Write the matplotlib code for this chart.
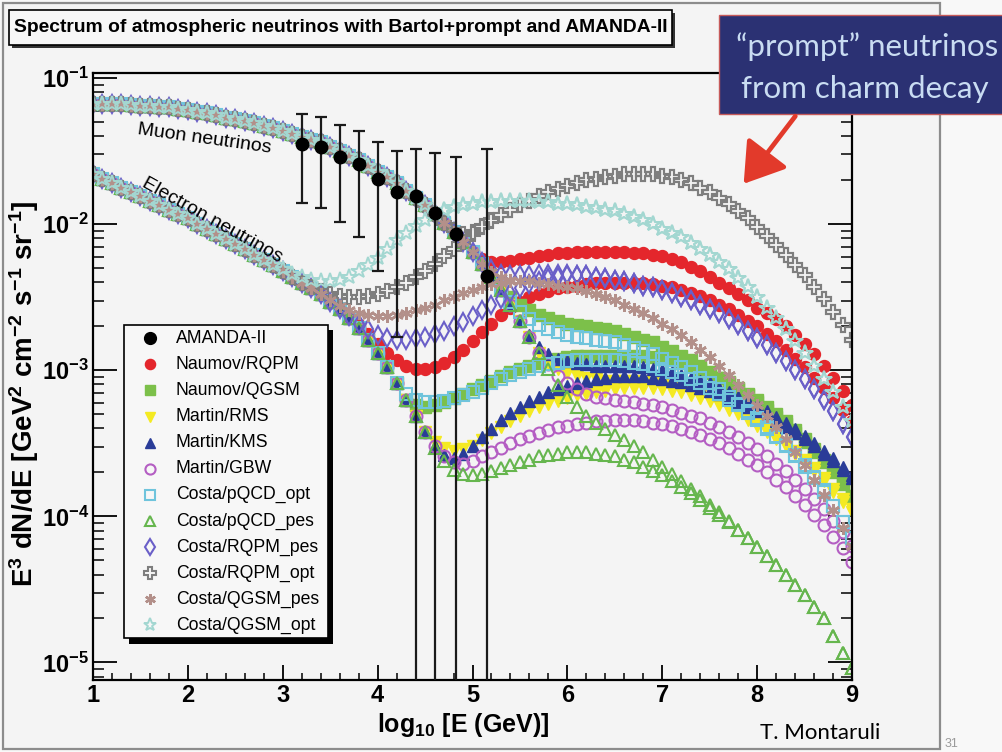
import numpy as np
import matplotlib
matplotlib.use("Agg")
import matplotlib.pyplot as plt
from matplotlib.lines import Line2D
from matplotlib.patches import Rectangle, FancyArrowPatch
from matplotlib.ticker import MultipleLocator, FixedLocator, NullFormatter

plt.rcParams['font.family'] = ['Liberation Sans', 'DejaVu Sans']
plt.rcParams['mathtext.fontset'] = 'custom'
plt.rcParams['mathtext.rm'] = 'Liberation Sans:bold'
plt.rcParams['mathtext.it'] = 'Liberation Sans:bold'
plt.rcParams['mathtext.bf'] = 'Liberation Sans:bold'

# ---------------- data ----------------
LOG10E = [round(1.0 + 0.1 * i, 1) for i in range(81)]   # sample positions, log10(E/GeV)

# conventional (Bartol) part shared by all models
MU_CONV = [
    6.61e-2, 6.61e-2, 6.61e-2, 6.61e-2, 6.53e-2, 6.46e-2, 6.46e-2, 6.38e-2, 6.31e-2, 6.17e-2,
    6.03e-2, 5.89e-2, 5.75e-2, 5.56e-2, 5.37e-2, 5.25e-2, 5.07e-2, 4.90e-2, 4.73e-2, 4.57e-2,
    4.37e-2, 4.17e-2, 3.98e-2, 3.80e-2, 3.63e-2, 3.39e-2, 3.16e-2, 2.95e-2, 2.75e-2, 2.51e-2,
    2.29e-2, 2.09e-2, 1.91e-2, 1.70e-2, 1.51e-2, 1.35e-2, 1.17e-2, 1.02e-2, 8.91e-3, 7.59e-3,
    6.46e-3, 5.37e-3, 4.37e-3, 3.55e-3, 2.82e-3, 2.19e-3, 1.70e-3, 1.32e-3, 1.02e-3, 7.94e-4,
    6.61e-4]
E_CONV = [
    2.19e-2, 2.04e-2, 1.91e-2, 1.78e-2, 1.66e-2, 1.55e-2, 1.45e-2, 1.35e-2, 1.26e-2, 1.17e-2,
    1.10e-2, 1.01e-2, 9.33e-3, 8.61e-3, 7.94e-3, 7.33e-3, 6.76e-3, 6.17e-3, 5.69e-3, 5.25e-3,
    4.79e-3, 4.37e-3, 3.98e-3, 3.63e-3, 3.31e-3, 2.95e-3, 2.63e-3, 2.29e-3, 1.95e-3, 1.62e-3,
    1.32e-3, 1.05e-3, 8.13e-4, 6.31e-4, 4.90e-4, 3.80e-4, 2.95e-4, 2.29e-4, 1.78e-4, 1.38e-4,
    1.07e-4]

# high-energy ends of each model (they end at log10E = 9.0)
NAUMOV_RQPM_MU = [
    6.46e-3, 5.75e-3, 5.50e-3, 5.50e-3, 5.62e-3, 5.75e-3, 5.89e-3, 6.03e-3, 6.17e-3, 6.31e-3,
    6.31e-3, 6.46e-3, 6.46e-3, 6.46e-3, 6.46e-3, 6.46e-3, 6.46e-3, 6.31e-3, 6.31e-3, 6.17e-3,
    6.03e-3, 5.75e-3, 5.50e-3, 5.13e-3, 4.79e-3, 4.37e-3, 3.98e-3, 3.63e-3, 3.31e-3, 3.02e-3,
    2.69e-3, 2.45e-3, 2.24e-3, 2.00e-3, 1.74e-3, 1.51e-3, 1.29e-3, 1.07e-3, 8.91e-4, 7.24e-4,
    5.75e-4]
NAUMOV_RQPM_E = [
    2.04e-3, 1.78e-3, 1.51e-3, 1.32e-3, 1.17e-3, 1.07e-3, 1.02e-3, 1.02e-3, 1.05e-3, 1.12e-3,
    1.23e-3, 1.38e-3, 1.58e-3, 1.82e-3, 2.09e-3, 2.40e-3, 2.69e-3, 2.95e-3, 3.16e-3, 3.31e-3,
    3.47e-3, 3.63e-3, 3.72e-3, 3.80e-3, 3.89e-3, 3.98e-3, 3.98e-3, 3.98e-3, 3.98e-3, 3.98e-3,
    3.98e-3, 3.89e-3, 3.80e-3, 3.72e-3, 3.55e-3, 3.39e-3, 3.24e-3, 3.02e-3, 2.82e-3, 2.63e-3,
    2.40e-3, 2.19e-3, 2.00e-3, 1.78e-3, 1.58e-3, 1.38e-3, 1.20e-3, 1.05e-3, 8.91e-4, 7.59e-4,
    6.46e-4, 5.37e-4, 4.47e-4]
NAUMOV_QGSM_MU = [
    5.37e-3, 4.47e-3, 3.72e-3, 3.16e-3, 2.82e-3, 2.57e-3, 2.40e-3, 2.29e-3, 2.19e-3,
    2.09e-3, 2.04e-3, 2.00e-3, 1.95e-3, 1.91e-3, 1.86e-3, 1.78e-3, 1.70e-3, 1.62e-3, 1.55e-3,
    1.45e-3, 1.35e-3, 1.26e-3, 1.17e-3, 1.07e-3, 9.77e-4, 8.91e-4, 8.13e-4, 7.41e-4, 6.76e-4,
    6.03e-4, 5.37e-4, 4.79e-4, 4.27e-4, 3.72e-4, 3.24e-4, 2.75e-4, 2.34e-4, 2.00e-4, 1.66e-4,
    1.38e-4]
NAUMOV_QGSM_E = [
    6.31e-4, 5.75e-4, 5.62e-4, 5.75e-4, 6.03e-4, 6.46e-4, 6.92e-4,
    7.41e-4, 7.94e-4, 8.51e-4, 9.12e-4, 9.77e-4, 1.02e-3, 1.07e-3, 1.12e-3, 1.17e-3, 1.20e-3,
    1.23e-3, 1.26e-3, 1.26e-3, 1.26e-3, 1.26e-3, 1.26e-3, 1.26e-3, 1.26e-3, 1.26e-3, 1.23e-3,
    1.20e-3, 1.17e-3, 1.12e-3, 1.07e-3, 1.02e-3, 9.55e-4, 8.91e-4, 8.32e-4, 7.59e-4, 6.92e-4,
    6.31e-4, 5.62e-4, 5.01e-4, 4.47e-4, 3.89e-4, 3.39e-4, 2.88e-4, 2.45e-4, 2.04e-4, 1.70e-4,
    1.38e-4]
MARTIN_RMS_MU = [
    1.12e-3, 1.02e-3,
    9.55e-4, 9.12e-4, 8.91e-4, 8.71e-4, 8.51e-4, 8.51e-4, 8.51e-4, 8.51e-4, 8.32e-4, 8.13e-4,
    7.94e-4, 7.76e-4, 7.41e-4, 7.08e-4, 6.76e-4, 6.46e-4, 6.03e-4, 5.62e-4, 5.25e-4, 4.79e-4,
    4.37e-4, 3.98e-4, 3.55e-4, 3.16e-4, 2.82e-4, 2.45e-4, 2.14e-4, 1.82e-4, 1.55e-4, 1.32e-4,
    1.12e-4]
MARTIN_RMS_E = [
    3.80e-4, 3.24e-4, 2.95e-4, 2.82e-4, 2.88e-4,
    3.02e-4, 3.31e-4, 3.72e-4, 4.07e-4, 4.47e-4, 4.90e-4, 5.25e-4, 5.62e-4, 5.89e-4, 6.17e-4,
    6.46e-4, 6.76e-4, 6.92e-4, 7.08e-4, 7.24e-4, 7.41e-4, 7.59e-4, 7.59e-4, 7.59e-4, 7.59e-4,
    7.41e-4, 7.24e-4, 7.08e-4, 6.76e-4, 6.46e-4, 6.17e-4, 5.75e-4, 5.37e-4, 5.01e-4, 4.57e-4,
    4.17e-4, 3.80e-4, 3.39e-4, 3.02e-4, 2.69e-4, 2.34e-4, 2.04e-4, 1.74e-4, 1.48e-4, 1.26e-4,
    1.07e-4]
MARTIN_KMS_MU = [
    1.74e-3, 1.45e-3, 1.29e-3, 1.20e-3,
    1.15e-3, 1.12e-3, 1.10e-3, 1.07e-3, 1.07e-3, 1.07e-3, 1.07e-3, 1.07e-3, 1.05e-3, 1.02e-3,
    1.00e-3, 9.77e-4, 9.33e-4, 8.91e-4, 8.51e-4, 8.13e-4, 7.59e-4, 7.08e-4, 6.61e-4, 6.17e-4,
    5.75e-4, 5.25e-4, 4.79e-4, 4.37e-4, 3.98e-4, 3.55e-4, 3.16e-4, 2.82e-4, 2.51e-4, 2.19e-4,
    1.91e-4]
MARTIN_KMS_E = [
    3.02e-4, 2.63e-4, 2.51e-4, 2.69e-4,
    3.02e-4, 3.47e-4, 3.98e-4, 4.57e-4, 5.13e-4, 5.62e-4, 6.17e-4, 6.61e-4, 7.08e-4, 7.41e-4,
    7.76e-4, 8.13e-4, 8.51e-4, 8.71e-4, 8.91e-4, 9.12e-4, 9.12e-4, 9.12e-4, 9.12e-4, 8.91e-4,
    8.71e-4, 8.51e-4, 8.32e-4, 7.94e-4, 7.59e-4, 7.24e-4, 6.92e-4, 6.46e-4, 6.03e-4, 5.62e-4,
    5.25e-4, 4.90e-4, 4.47e-4, 4.07e-4, 3.72e-4, 3.39e-4, 3.02e-4, 2.69e-4, 2.40e-4, 2.09e-4,
    1.82e-4]
MARTIN_GBW_MU = [
    1.10e-3, 9.12e-4,
    8.13e-4, 7.41e-4, 6.92e-4, 6.61e-4, 6.46e-4, 6.31e-4, 6.17e-4, 6.03e-4, 5.89e-4, 5.75e-4,
    5.62e-4, 5.37e-4, 5.13e-4, 4.90e-4, 4.68e-4, 4.37e-4, 4.07e-4, 3.80e-4, 3.47e-4, 3.16e-4,
    2.88e-4, 2.57e-4, 2.29e-4, 2.04e-4, 1.78e-4, 1.55e-4, 1.32e-4, 1.12e-4, 9.33e-5, 7.76e-5,
    6.31e-5]
MARTIN_GBW_E = [
    3.02e-4, 2.57e-4, 2.34e-4, 2.29e-4,
    2.40e-4, 2.57e-4, 2.75e-4, 2.95e-4, 3.16e-4, 3.39e-4, 3.55e-4, 3.72e-4, 3.89e-4, 4.07e-4,
    4.17e-4, 4.27e-4, 4.37e-4, 4.47e-4, 4.47e-4, 4.57e-4, 4.57e-4, 4.57e-4, 4.47e-4, 4.37e-4,
    4.27e-4, 4.17e-4, 3.98e-4, 3.80e-4, 3.63e-4, 3.39e-4, 3.16e-4, 2.95e-4, 2.69e-4, 2.45e-4,
    2.24e-4, 2.00e-4, 1.78e-4, 1.58e-4, 1.38e-4, 1.20e-4, 1.02e-4, 8.71e-5, 7.24e-5, 6.03e-5,
    4.90e-5]
COSTA_PQCD_OPT_MU = [
    3.55e-3, 2.95e-3, 2.51e-3, 2.24e-3, 2.04e-3, 1.91e-3, 1.82e-3,
    1.74e-3, 1.70e-3, 1.66e-3, 1.62e-3, 1.58e-3, 1.55e-3, 1.48e-3, 1.41e-3, 1.35e-3, 1.29e-3,
    1.20e-3, 1.12e-3, 1.05e-3, 9.77e-4, 8.91e-4, 8.13e-4, 7.41e-4, 6.61e-4, 5.89e-4, 5.25e-4,
    4.68e-4, 4.07e-4, 3.55e-4, 3.09e-4, 2.63e-4, 2.24e-4, 1.86e-4, 1.51e-4, 1.17e-4, 9.12e-5,
    7.08e-5]
COSTA_PQCD_OPT_E = [
    6.92e-4, 6.31e-4, 6.03e-4, 6.03e-4, 6.17e-4, 6.46e-4, 6.76e-4,
    7.08e-4, 7.59e-4, 8.13e-4, 8.71e-4, 9.33e-4, 9.77e-4, 1.02e-3, 1.07e-3, 1.10e-3, 1.12e-3,
    1.15e-3, 1.17e-3, 1.17e-3, 1.17e-3, 1.17e-3, 1.17e-3, 1.15e-3, 1.12e-3, 1.10e-3, 1.07e-3,
    1.02e-3, 9.77e-4, 9.33e-4, 8.71e-4, 8.13e-4, 7.59e-4, 6.92e-4, 6.31e-4, 5.75e-4, 5.13e-4,
    4.57e-4, 3.98e-4, 3.47e-4, 3.02e-4, 2.57e-4, 2.19e-4, 1.82e-4, 1.48e-4, 1.17e-4, 9.12e-5,
    7.08e-5]
COSTA_PQCD_PES_MU = [
    5.62e-4, 4.90e-4, 4.37e-4, 3.98e-4, 3.63e-4, 3.31e-4, 3.02e-4, 2.75e-4, 2.45e-4,
    2.19e-4, 1.95e-4, 1.74e-4, 1.55e-4, 1.38e-4, 1.20e-4, 1.07e-4, 9.33e-5, 8.13e-5, 7.08e-5,
    6.17e-5, 5.37e-5, 4.68e-5, 3.98e-5, 3.39e-5, 2.88e-5, 2.40e-5, 2.00e-5, 1.51e-5, 1.17e-5,
    9.12e-6]
COSTA_PQCD_PES_E = [
    2.95e-4, 2.40e-4, 2.09e-4, 1.95e-4,
    1.91e-4, 1.95e-4, 2.04e-4, 2.14e-4, 2.24e-4, 2.34e-4, 2.45e-4, 2.57e-4, 2.63e-4, 2.69e-4,
    2.75e-4, 2.75e-4, 2.75e-4, 2.69e-4, 2.63e-4, 2.57e-4, 2.45e-4, 2.34e-4, 2.19e-4, 2.04e-4,
    1.91e-4, 1.74e-4, 1.58e-4, 1.45e-4, 1.29e-4, 1.15e-4, 1.02e-4, 9.12e-5, 8.13e-5, 7.08e-5,
    6.17e-5, 5.37e-5, 4.68e-5, 3.98e-5, 3.39e-5, 2.88e-5, 2.40e-5, 2.00e-5, 1.51e-5, 1.17e-5,
    9.12e-6]
COSTA_RQPM_PES_MU = [
    5.50e-3, 4.90e-3, 4.57e-3, 4.47e-3, 4.47e-3, 4.47e-3, 4.57e-3, 4.57e-3, 4.57e-3, 4.57e-3,
    4.47e-3, 4.47e-3, 4.37e-3, 4.27e-3, 4.17e-3, 4.07e-3, 3.98e-3, 3.80e-3, 3.72e-3,
    3.55e-3, 3.39e-3, 3.16e-3, 3.02e-3, 2.82e-3, 2.63e-3, 2.45e-3, 2.24e-3, 2.04e-3, 1.86e-3,
    1.66e-3, 1.48e-3, 1.32e-3, 1.15e-3, 1.00e-3, 8.71e-4, 7.41e-4, 6.31e-4, 5.25e-4, 4.27e-4,
    3.47e-4]
COSTA_RQPM_PES_E = [
    2.63e-3, 2.34e-3, 2.09e-3, 1.91e-3,
    1.74e-3, 1.66e-3, 1.62e-3, 1.62e-3, 1.66e-3, 1.70e-3, 1.78e-3, 1.86e-3, 2.00e-3, 2.14e-3,
    2.34e-3, 2.57e-3, 2.82e-3, 3.09e-3, 3.39e-3, 3.63e-3, 3.89e-3, 4.07e-3, 4.27e-3, 4.37e-3,
    4.47e-3, 4.47e-3, 4.47e-3, 4.37e-3, 4.27e-3, 4.17e-3, 4.07e-3, 3.98e-3, 3.80e-3, 3.72e-3,
    3.55e-3, 3.39e-3, 3.16e-3, 3.02e-3, 2.82e-3, 2.63e-3, 2.45e-3, 2.24e-3, 2.04e-3, 1.86e-3,
    1.66e-3, 1.48e-3, 1.32e-3, 1.15e-3, 1.00e-3, 8.71e-4, 7.41e-4, 6.31e-4, 5.25e-4, 4.27e-4,
    3.47e-4]
COSTA_RQPM_OPT_MU = [
    9.12e-3, 8.51e-3, 8.91e-3, 9.77e-3, 1.07e-2,
    1.15e-2, 1.26e-2, 1.35e-2, 1.45e-2, 1.55e-2, 1.66e-2, 1.74e-2,
    1.82e-2, 1.91e-2, 2.00e-2, 2.04e-2, 2.09e-2, 2.14e-2, 2.19e-2, 2.19e-2, 2.19e-2, 2.19e-2,
    2.14e-2, 2.09e-2, 2.00e-2, 1.91e-2, 1.78e-2, 1.66e-2, 1.51e-2, 1.38e-2, 1.23e-2, 1.10e-2,
    9.55e-3, 8.32e-3, 7.24e-3, 6.17e-3, 5.25e-3, 4.47e-3, 3.72e-3, 3.09e-3, 2.51e-3, 2.04e-3,
    1.62e-3]
COSTA_RQPM_OPT_E = [
    3.72e-3, 3.47e-3, 3.31e-3, 3.24e-3, 3.16e-3, 3.16e-3, 3.24e-3,
    3.31e-3, 3.47e-3, 3.72e-3, 3.98e-3, 4.37e-3, 4.79e-3, 5.37e-3, 6.03e-3, 6.76e-3, 7.59e-3,
    8.51e-3, 9.55e-3, 1.05e-2, 1.15e-2, 1.26e-2, 1.35e-2, 1.45e-2, 1.55e-2, 1.66e-2, 1.74e-2,
    1.82e-2, 1.91e-2, 2.00e-2, 2.04e-2, 2.09e-2, 2.14e-2, 2.19e-2, 2.19e-2, 2.19e-2, 2.19e-2,
    2.14e-2, 2.09e-2, 2.00e-2, 1.91e-2, 1.78e-2, 1.66e-2, 1.51e-2, 1.38e-2, 1.23e-2, 1.10e-2,
    9.55e-3, 8.32e-3, 7.24e-3, 6.17e-3, 5.25e-3, 4.47e-3, 3.72e-3, 3.09e-3, 2.51e-3, 2.04e-3,
    1.62e-3]
COSTA_QGSM_PES_MU = [
    5.37e-3, 4.68e-3, 4.37e-3, 4.17e-3, 4.07e-3, 4.07e-3, 3.98e-3, 3.89e-3, 3.80e-3,
    3.72e-3, 3.63e-3, 3.47e-3, 3.31e-3, 3.16e-3, 3.02e-3, 2.82e-3, 2.63e-3, 2.45e-3, 2.29e-3,
    2.09e-3, 1.91e-3, 1.74e-3, 1.55e-3, 1.38e-3, 1.23e-3, 1.07e-3, 9.33e-4, 7.94e-4, 6.76e-4,
    5.75e-4, 4.90e-4, 4.07e-4, 3.39e-4, 2.75e-4, 2.24e-4, 1.78e-4, 1.41e-4, 1.10e-4, 8.32e-5,
    6.31e-5]
COSTA_QGSM_PES_E = [
    3.31e-3, 3.02e-3, 2.75e-3, 2.57e-3, 2.45e-3, 2.40e-3,
    2.34e-3, 2.34e-3, 2.40e-3, 2.45e-3, 2.57e-3, 2.69e-3, 2.82e-3, 3.02e-3, 3.16e-3, 3.39e-3,
    3.55e-3, 3.72e-3, 3.89e-3, 3.98e-3, 4.07e-3, 4.07e-3, 4.07e-3, 3.98e-3, 3.89e-3, 3.80e-3,
    3.72e-3, 3.63e-3, 3.47e-3, 3.31e-3, 3.16e-3, 3.02e-3, 2.82e-3, 2.63e-3, 2.45e-3, 2.29e-3,
    2.09e-3, 1.91e-3, 1.74e-3, 1.55e-3, 1.38e-3, 1.23e-3, 1.07e-3, 9.33e-4, 7.94e-4, 6.76e-4,
    5.75e-4, 4.90e-4, 4.07e-4, 3.39e-4, 2.75e-4, 2.24e-4, 1.78e-4, 1.41e-4, 1.10e-4, 8.32e-5,
    6.31e-5]
COSTA_QGSM_OPT_MU = [
    1.20e-2, 1.26e-2, 1.32e-2, 1.35e-2,
    1.38e-2, 1.41e-2, 1.41e-2, 1.45e-2, 1.45e-2, 1.45e-2, 1.45e-2, 1.41e-2, 1.41e-2, 1.38e-2,
    1.38e-2, 1.35e-2, 1.32e-2, 1.29e-2, 1.26e-2, 1.23e-2, 1.17e-2, 1.12e-2, 1.07e-2, 1.00e-2,
    9.33e-3, 8.71e-3, 8.13e-3, 7.41e-3, 6.76e-3, 6.17e-3, 5.50e-3, 4.90e-3, 4.27e-3, 3.72e-3,
    3.16e-3, 2.69e-3, 2.29e-3, 1.91e-3, 1.58e-3, 1.32e-3, 1.07e-3, 8.71e-4, 7.08e-4, 5.62e-4,
    4.47e-4]
COSTA_QGSM_OPT_E = [
    4.90e-3, 4.57e-3, 4.37e-3, 4.17e-3, 4.07e-3, 4.07e-3, 4.17e-3, 4.37e-3, 4.79e-3, 5.25e-3,
    5.89e-3, 6.76e-3, 7.76e-3, 8.71e-3, 9.77e-3, 1.07e-2, 1.17e-2, 1.26e-2, 1.32e-2, 1.35e-2,
    1.38e-2, 1.41e-2, 1.41e-2, 1.45e-2, 1.45e-2, 1.45e-2, 1.45e-2, 1.41e-2, 1.41e-2, 1.38e-2,
    1.38e-2, 1.35e-2, 1.32e-2, 1.29e-2, 1.26e-2, 1.23e-2, 1.17e-2, 1.12e-2, 1.07e-2, 1.00e-2,
    9.33e-3, 8.71e-3, 8.13e-3, 7.41e-3, 6.76e-3, 6.17e-3, 5.50e-3, 4.90e-3, 4.27e-3, 3.72e-3,
    3.16e-3, 2.69e-3, 2.29e-3, 1.91e-3, 1.58e-3, 1.32e-3, 1.07e-3, 8.71e-4, 7.08e-4, 5.62e-4,
    4.47e-4]

AMANDA_LOG10E = [3.20, 3.40, 3.60, 3.80, 4.00, 4.20, 4.40, 4.60, 4.83, 5.15]
AMANDA_FLUX = [3.55e-2, 3.35e-2, 2.88e-2, 2.59e-2, 2.03e-2, 1.66e-2, 1.55e-2, 1.19e-2, 8.56e-3, 4.43e-3]
AMANDA_UPPER = [5.69e-2, 5.41e-2, 4.76e-2, 4.37e-2, 3.65e-2, 3.19e-2, 3.27e-2, 3.06e-2, 2.90e-2, 3.27e-2]
AMANDA_LOWER = [1.40e-2, 1.29e-2, 1.04e-2, 8.15e-3, 4.81e-3, 1.70e-3, 0.0, 0.0, 0.0, 0.0]

LABELS = ["AMANDA-II", "Naumov/RQPM", "Naumov/QGSM", "Martin/RMS", "Martin/KMS", "Martin/GBW",
          "Costa/pQCD_opt", "Costa/pQCD_pes", "Costa/RQPM_pes", "Costa/RQPM_opt",
          "Costa/QGSM_pes", "Costa/QGSM_opt"]

MODELS = [
    ("Naumov/RQPM", NAUMOV_RQPM_MU, NAUMOV_RQPM_E),
    ("Naumov/QGSM", NAUMOV_QGSM_MU, NAUMOV_QGSM_E),
    ("Martin/RMS", MARTIN_RMS_MU, MARTIN_RMS_E),
    ("Martin/KMS", MARTIN_KMS_MU, MARTIN_KMS_E),
    ("Martin/GBW", MARTIN_GBW_MU, MARTIN_GBW_E),
    ("Costa/pQCD_opt", COSTA_PQCD_OPT_MU, COSTA_PQCD_OPT_E),
    ("Costa/pQCD_pes", COSTA_PQCD_PES_MU, COSTA_PQCD_PES_E),
    ("Costa/RQPM_pes", COSTA_RQPM_PES_MU, COSTA_RQPM_PES_E),
    ("Costa/RQPM_opt", COSTA_RQPM_OPT_MU, COSTA_RQPM_OPT_E),
    ("Costa/QGSM_pes", COSTA_QGSM_PES_MU, COSTA_QGSM_PES_E),
    ("Costa/QGSM_opt", COSTA_QGSM_OPT_MU, COSTA_QGSM_OPT_E),
]

# ---------------- styles ----------------
STYLES = {
    "AMANDA-II":      dict(marker='o', ms=9.0, mfc='black', mec='black', mew=1.0),
    "Naumov/RQPM":    dict(marker='o', ms=8.6, mfc='#e4262c', mec='#e4262c', mew=1.0),
    "Naumov/QGSM":    dict(marker='s', ms=8.0, mfc='#7cc04a', mec='#7cc04a', mew=1.0),
    "Martin/RMS":     dict(marker='v', ms=8.8, mfc='#f4ea22', mec='#f4ea22', mew=1.0),
    "Martin/KMS":     dict(marker='^', ms=8.8, mfc='#2a3c98', mec='#2a3c98', mew=1.0),
    "Martin/GBW":     dict(marker='o', ms=8.6, mfc='none', mec='#b45ec3', mew=1.5),
    "Costa/pQCD_opt": dict(marker='s', ms=8.6, mfc='none', mec='#6fc4dc', mew=1.5),
    "Costa/pQCD_pes": dict(marker='^', ms=9.2, mfc='none', mec='#66b64e', mew=1.5),
    "Costa/RQPM_pes": dict(marker='d', ms=9.2, mfc='none', mec='#6a5fc8', mew=1.5),
    "Costa/RQPM_opt": dict(marker='P', ms=9.8, mfc='none', mec='#7e7e7e', mew=1.5),
    "Costa/QGSM_pes": dict(marker=(6, 2, 0), ms=9.0, mfc='#b3908a', mec='#b3908a', mew=1.8),
    "Costa/QGSM_opt": dict(marker='*', ms=11.5, mfc='none', mec='#a3d7d1', mew=1.4),
}
LEGEND_MS = {"AMANDA-II": 8.5}

W, H = 1003, 752
def fx(p):
    return p / W
def fy(p):
    return 1 - p / H

BG = '#f4f4f4'
fig = plt.figure(figsize=(W / 100, H / 100), dpi=100, facecolor='#f8f8f8')
fig.add_artist(Rectangle((fx(3), fy(749)), (940 - 3) / W, (749 - 3) / H, transform=fig.transFigure,
                         facecolor=BG, edgecolor='#8c8c8c', lw=1.6, zorder=-5))

ax = fig.add_axes([fx(93), fy(680), (852 - 93) / W, (680 - 73) / H])
ax.set_facecolor(BG)
ax.set_yscale('log')
ax.set_xlim(1, 9)
ax.set_ylim(10 ** -5.12, 10 ** -0.965)

X = LOG10E
for name, mu_tail, e_tail in MODELS:
    st = STYLES[name]
    mu = MU_CONV[:len(X) - len(mu_tail)] + mu_tail
    el = E_CONV[:len(X) - len(e_tail)] + e_tail
    ax.plot(X[:len(mu)], mu, ls='none', clip_on=True, **st)
    ax.plot(X[:len(el)], el, ls='none', clip_on=True, **st)

# AMANDA-II unfolded spectrum
ymin = ax.get_ylim()[0]
amf = np.array(AMANDA_FLUX)
lo = np.array(AMANDA_LOWER)
lo = np.where(lo > 0, lo, ymin * 1e-2)
hi = np.array(AMANDA_UPPER)
ax.errorbar(AMANDA_LOG10E, amf, yerr=[amf - lo, hi - amf], fmt='none', ecolor='#1a1a1a',
            elinewidth=1.6, capsize=4.5, capthick=1.6, zorder=20)
ax.plot(AMANDA_LOG10E, amf, ls='none', zorder=21, **STYLES["AMANDA-II"])

# axes cosmetics
for s in ax.spines.values():
    s.set_linewidth(1.6)
    s.set_color('black')
ax.xaxis.set_minor_locator(MultipleLocator(0.2))
ax.set_xticks([1, 2, 3, 4, 5, 6, 7, 8, 9], labels=[str(v) for v in range(1, 10)],
              fontsize=17, fontweight='bold')
decs = [1e-1, 1e-2, 1e-3, 1e-4, 1e-5]
ax.set_yticks(decs, labels=[r'$10^{-%d}$' % k for k in range(1, 6)], fontsize=17)
ax.yaxis.set_minor_locator(FixedLocator([m * d for d in [1e-6, 1e-5, 1e-4, 1e-3, 1e-2]
                                         for m in range(2, 10)]))
ax.yaxis.set_minor_formatter(NullFormatter())
ax.tick_params(axis='y', which='major', direction='in', length=17, width=1.3,
               left=True, right=True, pad=3)
ax.tick_params(axis='y', which='minor', direction='in', length=8, width=1.1,
               left=True, right=True)
ax.tick_params(axis='x', which='major', direction='in', length=11, width=1.3,
               bottom=True, top=False, pad=3)
ax.tick_params(axis='x', which='minor', direction='in', length=5, width=1.1,
               bottom=True, top=False)

# axis titles
fig.text(fx(24), fy(394), r'E$^{3}$ dN/dE [GeV$^{2}$ cm$^{-2}$ s$^{-1}$ sr$^{-1}$]',
         rotation=90, ha='center', va='center', fontsize=20, fontweight='bold')
fig.text(fx(463), fy(725), r'log$_{10}$ [E (GeV)]', ha='center', va='center',
         fontsize=18, fontweight='bold')

# curve annotations
fig.text(fx(204), fy(139), 'Muon neutrinos', rotation=-8, ha='center', va='center',
         fontsize=14, rotation_mode='anchor')
fig.text(fx(212), fy(220), 'Electron neutrinos', rotation=-29, ha='center', va='center',
         fontsize=14, rotation_mode='anchor')

# title pave
fig.add_artist(Rectangle((fx(12), fy(48)), (675 - 12) / W, (48 - 13) / H, transform=fig.transFigure,
                         facecolor='#333333', edgecolor='none', zorder=5))
fig.add_artist(Rectangle((fx(9), fy(45)), (672 - 9) / W, (45 - 10) / H, transform=fig.transFigure,
                         facecolor='#f7f7f7', edgecolor='black', lw=1.2, zorder=6))
fig.text(fx(341), fy(28), 'Spectrum of atmospheric neutrinos with Bartol+prompt and AMANDA-II',
         ha='center', va='center', fontsize=13.9, fontweight='bold', zorder=7)

# legend pave
fig.add_artist(Rectangle((fx(129), fy(644)), (333 - 129) / W, (644 - 330) / H,
                         transform=fig.transFigure, facecolor='black', edgecolor='none', zorder=8))
fig.add_artist(Rectangle((fx(124), fy(638)), (328 - 124) / W, (638 - 325) / H,
                         transform=fig.transFigure, facecolor='#f7f7f7', edgecolor='black',
                         lw=1.2, zorder=9))
for i, lab in enumerate(LABELS):
    ypx = 338.3 + i * 26.1
    st = dict(STYLES[lab])
    st['ms'] = LEGEND_MS.get(lab, st['ms'] * 0.85)
    fig.add_artist(Line2D([fx(150)], [fy(ypx)], transform=fig.transFigure, ls='none',
                          zorder=10, **st))
    fig.text(fx(176), fy(ypx), lab, ha='left', va='center', fontsize=12.7, zorder=10)

# "prompt" callout
fig.add_artist(Rectangle((fx(719), fy(114)), (1010 - 719) / W, (114 - 15) / H,
                         transform=fig.transFigure, facecolor='#2b3173', edgecolor='#c65a5a',
                         lw=1.0, zorder=12))
fig.text(fx(867), fy(47), '\u201cprompt\u201d neutrinos', ha='center', va='center',
         fontsize=22.5, color='#c9dcf2', family=['Lato', 'DejaVu Sans'], zorder=13)
fig.text(fx(865), fy(89), 'from charm decay', ha='center', va='center',
         fontsize=22.5, color='#c9dcf2', family=['Lato', 'DejaVu Sans'], zorder=13)
fig.add_artist(FancyArrowPatch((fx(797), fy(114)), (fx(742), fy(186)), transform=fig.transFigure,
                               arrowstyle='-|>,head_length=1.0,head_width=0.65', mutation_scale=24,
                               lw=3.4, color='#e23a2b', zorder=12))

fig.text(fx(820), fy(733), 'T. Montaruli', ha='center', va='center', fontsize=16,
         family=['Lato', 'DejaVu Sans'])
fig.text(fx(952), fy(744), '31', ha='center', va='center', fontsize=9, color='#9a9a9a')

fig.savefig('out.png', dpi=100, facecolor=fig.get_facecolor())
